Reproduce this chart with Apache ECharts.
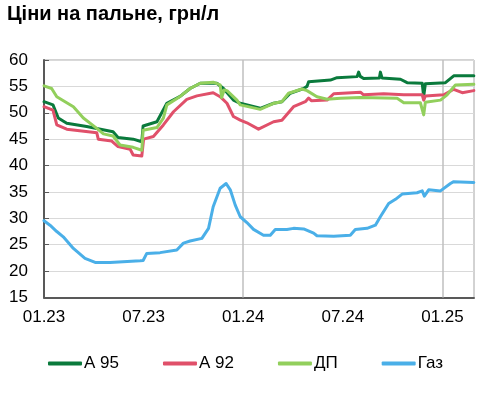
<!DOCTYPE html>
<html>
<head>
<meta charset="utf-8">
<script src="https://cdn.jsdelivr.net/npm/echarts@6/dist/echarts.min.js"></script>
<style>
  html, body { margin: 0; padding: 0; background: #fff; }
  #chart { width: 492px; height: 413px; }
</style>
</head>
<body>
<div id="chart"></div>
<script>
// ========= 数据（x = місяці від 01.2023）=========
const xLabels = { 0: "01.23", 6: "07.23", 12: "01.24", 18: "07.24", 24: "01.25" };
const yearLines = [12, 24];

const a95 = [
    [0, 52.1], [0.54, 51.5], [0.86, 49.0], [1.37, 48.0], [2.57, 47.4], [4.16, 46.4], [4.46, 45.3],
    [5.37, 45.0], [5.89, 44.5], [5.97, 47.5], [6.8, 48.3], [7.4, 51.8], [8.2, 53.1], [8.8, 54.6],
    [9.41, 55.6], [10.41, 55.6], [10.81, 54.6], [11.41, 52.4], [11.82, 51.8], [13.02, 50.85],
    [13.83, 51.8], [14.33, 52.1], [14.83, 53.7], [15.64, 54.6], [15.84, 55.0], [15.94, 55.9],
    [17.25, 56.2], [17.65, 56.65], [18.86, 56.85], [18.95, 57.7], [19.05, 56.9], [19.25, 56.5],
    [20.2, 56.6], [20.26, 57.7], [20.36, 56.6], [21.47, 56.35], [21.87, 55.7], [22.78, 55.6],
    [22.87, 53.05], [22.97, 55.5], [24.18, 55.7], [24.68, 57.0], [25.89, 57.0]
];

const a92 = [
    [0, 51.15], [0.54, 50.5], [0.77, 47.7], [1.37, 46.9], [3.18, 46.2], [3.27, 45.0], [4.08, 44.65],
    [4.46, 43.6], [5.19, 43.1], [5.37, 42.0], [5.89, 41.8], [6.0, 45.0], [6.59, 45.5], [7.19, 47.7],
    [7.8, 50.2], [8.6, 52.55], [9.21, 53.2], [10.19, 53.8], [10.61, 53.05], [11.02, 51.8],
    [11.41, 49.3], [11.82, 48.6], [12.22, 48.1], [12.92, 46.9], [13.83, 48.3], [14.33, 48.6],
    [15.03, 51.15], [15.74, 52.1], [15.94, 52.8], [16.1, 52.3], [17.05, 52.4], [17.45, 53.6],
    [19.06, 53.9], [19.25, 53.4], [20.46, 53.6], [21.67, 53.4], [22.78, 53.4], [22.87, 52.4],
    [22.97, 53.2], [24.08, 53.4], [24.68, 54.45], [25.19, 53.8], [25.89, 54.2]
];

const dp = [
    [0, 55.1], [0.46, 54.6], [0.77, 53.05], [1.27, 52.1], [1.77, 51.15], [2.37, 49.0], [3.18, 47.05],
    [3.58, 46.0], [4.16, 45.6], [4.58, 43.9], [5.37, 43.45], [5.89, 42.9], [5.97, 46.7], [6.8, 47.2],
    [7.19, 49.0], [7.4, 51.5], [8.2, 53.1], [8.8, 54.6], [9.41, 55.6], [10.19, 55.8], [10.61, 55.3],
    [10.7, 52.9], [10.85, 54.3], [11.02, 54.2], [11.62, 52.4], [11.82, 51.5], [13.02, 50.65],
    [13.83, 51.8], [14.33, 52.1], [14.73, 53.7], [15.54, 54.5], [15.84, 54.2], [16.44, 53.05],
    [17.05, 52.55], [17.85, 52.75], [19.06, 52.9], [21.27, 52.75], [21.67, 51.9], [22.67, 51.9],
    [22.87, 49.6], [22.97, 52.0], [23.88, 52.4], [24.28, 53.4], [24.78, 55.25], [25.89, 55.4]
];

const gas = [
    [0, 29.55], [0.36, 28.7], [0.77, 27.5], [1.16, 26.5], [1.77, 24.3], [2.47, 22.4], [3.08, 21.65],
    [3.98, 21.65], [5.79, 21.95], [5.97, 22.0], [6.19, 23.35], [6.99, 23.5], [8.0, 24.0], [8.4, 25.3],
    [8.8, 25.7], [9.51, 26.2], [9.91, 28.1], [10.19, 32.2], [10.61, 35.7], [10.97, 36.6], [11.22, 35.4],
    [11.52, 32.5], [11.82, 30.3], [12.22, 29.2], [12.62, 27.9], [13.22, 26.8], [13.63, 26.8],
    [13.93, 27.9], [14.63, 27.9], [15.03, 28.1], [15.64, 28.0], [16.24, 27.2], [16.44, 26.7],
    [17.45, 26.6], [18.45, 26.8], [18.75, 27.9], [19.46, 28.1], [19.96, 28.7], [20.26, 30.3],
    [20.76, 32.8], [21.17, 33.6], [21.57, 34.6], [22.47, 34.85], [22.78, 35.2], [22.91, 34.2],
    [23.17, 35.4], [23.88, 35.2], [24.48, 36.6], [24.68, 36.95], [25.89, 36.8]
];

const seriesNames = ["А 95", "А 92", "ДП", "Газ"];
const seriesColors = ["#0a7a3c", "#e0506a", "#92cf5c", "#4aafe8"];

// ========= 图表 =========
const chart = echarts.init(document.getElementById("chart"));
const font = "'Liberation Sans', Arial, sans-serif";

function lineSeries(i, data, extra) {
    return Object.assign({
        name: seriesNames[i],
        type: "line",
        data: data,
        symbol: "none",
        showSymbol: false,
        smooth: false,
        lineStyle: { color: seriesColors[i], width: 3, cap: "round", join: "round" },
        itemStyle: { color: seriesColors[i] },
        z: 3
    }, extra || {});
}

chart.setOption({
    animation: false,
    textStyle: { fontFamily: font },
    title: {
        text: "Ціни на пальне, грн/л",
        left: 2,
        top: -1,
        textStyle: { fontSize: 20, fontWeight: "bold", color: "#000", fontFamily: font }
    },
    legend: {
        data: seriesNames.map(n => ({ name: n, icon: "roundRect" })),
        left: 48,
        top: 355,
        padding: 0,
        itemGap: 44,
        itemWidth: 34,
        itemHeight: 4,
        textStyle: { fontSize: 17, color: "#000", fontFamily: font, padding: [0, 0, 0, -3] }
    },
    grid: {
        left: 44, right: 18, top: 60, bottom: 115.5,
        show: true, borderColor: "#a6a6a6", borderWidth: 1, backgroundColor: "transparent"
    },
    xAxis: {
        type: "value",
        min: 0,
        max: 25.9,
        interval: 6,
        axisLine: { show: true, lineStyle: { color: "#595959", width: 2 } },
        axisTick: { show: false },
        splitLine: { show: false },
        axisLabel: {
            fontSize: 17, color: "#000", margin: 11, fontFamily: font,
            formatter: v => xLabels[v] || ""
        }
    },
    yAxis: {
        type: "value",
        min: 15,
        max: 60,
        interval: 5,
        axisLine: { show: true, lineStyle: { color: "#595959", width: 2 } },
        axisTick: { show: true, inside: true, length: 5, lineStyle: { color: "#595959" } },
        splitLine: { show: true, lineStyle: { color: "#d9d9d9", width: 1 } },
        axisLabel: { fontSize: 17, color: "#000", margin: 16, fontFamily: font }
    },
    series: [
        lineSeries(0, a95, {
            markLine: {
                silent: true,
                symbol: "none",
                label: { show: false },
                lineStyle: { color: "#bfbfbf", width: 1.5, type: "solid" },
                data: yearLines.map(x => ({ xAxis: x })),
                z: 1
            }
        }),
        lineSeries(1, a92),
        lineSeries(2, dp),
        lineSeries(3, gas)
    ]
});
</script>
</body>
</html>
